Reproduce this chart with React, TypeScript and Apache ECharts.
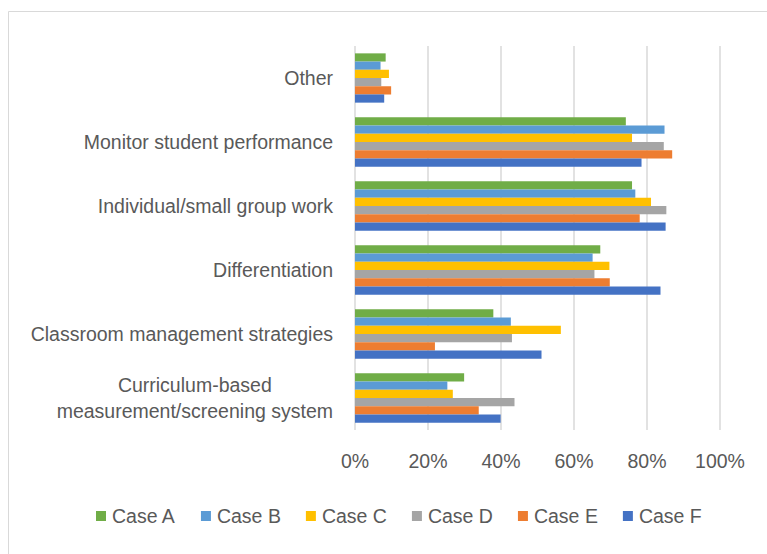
import React, { useEffect, useRef } from "react";
import * as echarts from "echarts";

const categories = [
  "Curriculum-based\nmeasurement/screening system",
  "Classroom management strategies",
  "Differentiation",
  "Individual/small group work",
  "Monitor student performance",
  "Other",
];
const seriesNames = ["Case A", "Case B", "Case C", "Case D", "Case E", "Case F"];
const caseA = [29.9, 37.9, 67.2, 75.9, 74.2, 8.4];
const caseB = [25.3, 42.7, 65.1, 76.8, 84.8, 7.0];
const caseC = [26.8, 56.4, 69.7, 81.1, 75.9, 9.3];
const caseD = [43.7, 43.0, 65.6, 85.3, 84.6, 7.2];
const caseE = [33.9, 21.9, 69.8, 78.0, 86.9, 9.9];
const caseF = [39.9, 51.1, 83.7, 85.1, 78.5, 8.0];
const seriesValues = [caseA, caseB, caseC, caseD, caseE, caseF];
const colors = ["#70AD47", "#5B9BD5", "#FFC000", "#A5A5A5", "#ED7D31", "#4472C4"];

const FONT = "'Liberation Sans', Arial, sans-serif";
const TEXT = "#595959";

export default function App() {
  const ref = useRef<HTMLDivElement>(null);
  useEffect(() => {
    if (!ref.current) return;
    const chart = echarts.init(ref.current, undefined, { renderer: "svg" });
    chart.setOption({
      animation: false,
      backgroundColor: "#ffffff",
      textStyle: { fontFamily: FONT },
      graphic: [
        {
          type: "rect",
          shape: { x: 8.5, y: 11.5, width: 900, height: 700 },
          style: { fill: "none", stroke: "#d9d9d9", lineWidth: 1 },
          silent: true,
        },
      ],
      legend: {
        data: seriesNames,
        left: 96,
        top: 506,
        padding: 0,
        itemWidth: 10,
        itemHeight: 10,
        itemGap: 25,
        icon: "rect",
        textStyle: { fontFamily: FONT, fontSize: 19.5, color: TEXT, padding: [0, 0, 0, 1] },
      },
      grid: { left: 355, right: 47, top: 46, bottom: 124, containLabel: false },
      xAxis: {
        type: "value",
        min: 0,
        max: 100,
        interval: 20,
        axisLine: { show: false },
        axisTick: { show: false },
        axisLabel: {
          formatter: "{value}%",
          color: TEXT,
          fontFamily: FONT,
          fontSize: 19.5,
          margin: 21,
        },
        splitLine: { show: true, lineStyle: { color: "#d9d9d9", width: 1.5 } },
      },
      yAxis: {
        type: "category",
        data: categories,
        axisLine: { show: false },
        axisTick: { show: false },
        axisLabel: {
          color: TEXT,
          fontFamily: FONT,
          fontSize: 19.5,
          margin: 22,
          formatter: (v: string) =>
            v
              .split("\n")
              .map((l) => "{c|" + l + "}")
              .join("\n"),
          rich: {
            c: {
              align: "center",
              color: TEXT,
              fontFamily: FONT,
              fontSize: 19.5,
              lineHeight: 26,
            },
          },
        },
      },
      series: seriesNames.map((name, i) => ({
        name,
        type: "bar",
        data: seriesValues[i],
        barGap: "0%",
        barCategoryGap: "23%",
        itemStyle: { color: colors[i] },
      })),
    });
    return () => chart.dispose();
  }, []);
  return (
    <div
      ref={ref}
      style={{ position: "fixed", left: 0, top: 0, width: 767, height: 554 }}
    />
  );
}
